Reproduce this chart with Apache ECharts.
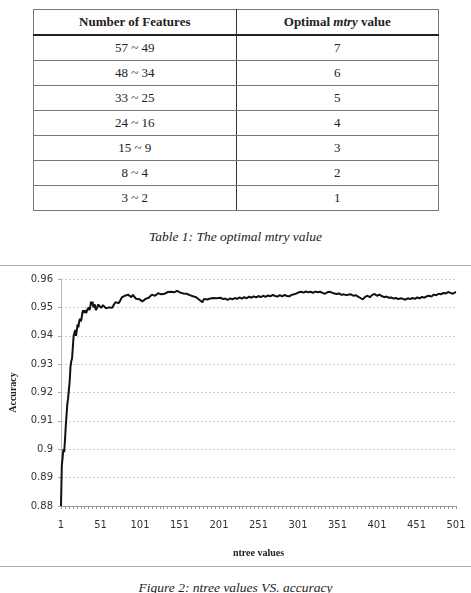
<!DOCTYPE html>
<html>
<head>
<meta charset="utf-8">
<script src="https://cdn.jsdelivr.net/npm/echarts@6/dist/echarts.min.js"></script>
<style>
  html, body { margin: 0; padding: 0; background: #fff; }
  body { width: 471px; height: 593px; position: relative; overflow: hidden; font-family: "Liberation Serif", serif; }
  #tbl { position: absolute; left: 33px; top: 9px; width: 406px; border-collapse: collapse; table-layout: fixed; font-size: 13px; color: #222; }
  #tbl td, #tbl th { height: 24px; padding: 0; text-align: center; border: 1px solid #777; }
  #tbl th { border-bottom: 2px solid #222; font-weight: bold; }
  #tbl td:first-child, #tbl th:first-child { border-right: 1px solid #333; }
  .cap { position: absolute; left: 0; width: 471px; text-align: center; font-style: italic; font-size: 13.5px; color: #222; }
  #frame { position: absolute; left: 0; top: 265px; width: 471px; height: 300px; border-top: 1px solid #aaa; border-bottom: 1px solid #aaa; }
  #chart { width: 471px; height: 300px; }
</style>
</head>
<body>
<table id="tbl"><thead></thead><tbody></tbody></table>
<div class="cap" style="top:229px">Table 1: The optimal mtry value</div>
<div id="frame"><div id="chart"></div></div>
<div class="cap" style="top:580px">Figure 2: ntree values VS. accuracy</div>
<script>
// table 1
const featureRanges = ['57 ~ 49', '48 ~ 34', '33 ~ 25', '24 ~ 16', '15 ~ 9', '8 ~ 4', '3 ~ 2']
const mtryValues = [7, 6, 5, 4, 3, 2, 1]

// figure 2
const ntree = [
  1, 2, 3, 4, 5, 6, 7, 8, 9, 10, 11, 12, 13, 14, 15, 16, 17, 18, 19, 20,
  21, 22, 23, 24, 25, 26, 27, 28, 29, 30, 31, 32, 33, 34, 35, 36, 37, 38, 39, 40,
  41, 42, 43, 44, 45, 46, 47, 48, 49, 50,
  52, 54, 56, 58, 60, 62, 64, 66, 68, 70, 72, 74, 76, 78, 80, 82, 84, 86, 88, 90,
  92, 94, 96, 98, 100, 102, 104, 106, 108, 110, 112, 114, 116, 118, 120, 122, 124, 126, 128, 130,
  132, 134, 136, 138, 140, 142, 144, 146, 148, 150, 152, 154, 156, 158, 160, 162, 164, 166, 168, 170,
  172, 174, 176, 178, 180, 182, 184, 186, 188, 190, 192, 194, 196, 198, 200,
  203, 206, 209, 212, 215, 218, 221, 224, 227, 230, 233, 236, 239, 242, 245, 248, 251, 254, 257, 260,
  263, 266, 269, 272, 275, 278, 281, 284, 287, 290, 293, 296, 299, 302, 305, 308, 311, 314, 317, 320,
  323, 326, 329, 332, 335, 338, 341, 344, 347, 350, 353, 356, 359, 362, 365, 368, 371, 374, 377, 380,
  383, 386, 389, 392, 395, 398, 401, 404, 407, 410, 413, 416, 419, 422, 425, 428, 431, 434, 437, 440,
  443, 446, 449, 452, 455, 458, 461, 464, 467, 470, 473, 476, 479, 482, 485, 488, 491, 494, 497, 500, 501
]
const accuracy = [
  0.880, 0.894, 0.897, 0.900, 0.899, 0.903, 0.908, 0.912, 0.916, 0.918, 0.921, 0.924, 0.929, 0.931, 0.932, 0.936, 0.940, 0.941, 0.942, 0.940,
  0.942, 0.944, 0.943, 0.945, 0.946, 0.945, 0.946, 0.948, 0.949, 0.948, 0.949, 0.949, 0.948, 0.949, 0.949, 0.950, 0.949, 0.950, 0.952, 0.951,
  0.952, 0.950, 0.950, 0.951, 0.949, 0.949, 0.950, 0.951, 0.951, 0.9505,
  0.9498, 0.9508, 0.9511, 0.9497, 0.9492, 0.9500, 0.9503, 0.9499, 0.9510, 0.9518, 0.9521, 0.9515, 0.9524, 0.9535, 0.9532, 0.9541, 0.9538, 0.9545, 0.9540, 0.9536,
  0.9544, 0.9548, 0.9530, 0.9525, 0.9529, 0.9523, 0.9521, 0.9527, 0.9530, 0.9525, 0.9534, 0.9541, 0.9545, 0.9538, 0.9541, 0.9547, 0.9550, 0.9543, 0.9546, 0.9540,
  0.9548, 0.9552, 0.9554, 0.9549, 0.9555, 0.9557, 0.9553, 0.9556, 0.9558, 0.9555, 0.9552, 0.9554, 0.9549, 0.9546, 0.9548, 0.9541, 0.9543, 0.9537, 0.9539, 0.9533,
  0.9536, 0.9530, 0.9527, 0.9531, 0.9518, 0.9530, 0.9532, 0.9528, 0.9534, 0.9531, 0.9527, 0.9533, 0.9529, 0.9532, 0.9527,
  0.9534, 0.9529, 0.9531, 0.9526, 0.9532, 0.9528, 0.9533, 0.9530, 0.9535, 0.9531, 0.9536, 0.9532, 0.9538, 0.9534, 0.9539, 0.9535, 0.9540, 0.9536, 0.9541, 0.9537,
  0.9542, 0.9539, 0.9544, 0.9540, 0.9538, 0.9543, 0.9539, 0.9544, 0.9540, 0.9539, 0.9544, 0.9546, 0.9549, 0.9553, 0.9555, 0.9552, 0.9556, 0.9553, 0.9555, 0.9551,
  0.9556, 0.9553, 0.9555, 0.9551, 0.9548, 0.9553, 0.9555, 0.9552, 0.9549, 0.9547, 0.9549, 0.9544, 0.9546, 0.9543, 0.9545, 0.9546, 0.9541, 0.9543, 0.9538, 0.9533,
  0.9528, 0.9537, 0.9541, 0.9536, 0.9544, 0.9547, 0.9541, 0.9545, 0.9540, 0.9536, 0.9538, 0.9534, 0.9535, 0.9531, 0.9533, 0.9529, 0.9532, 0.9530, 0.9527, 0.9532,
  0.9529, 0.9533, 0.9530, 0.9535, 0.9532, 0.9537, 0.9534, 0.9539, 0.9541, 0.9538, 0.9545, 0.9543, 0.9548, 0.9546, 0.9551, 0.9549, 0.9554, 0.9551, 0.9548, 0.9553, 0.9554
]
const yTicks = { min: 0.88, max: 0.96, step: 0.01 }
const xTicks = { min: 1, max: 501, step: 50 }

// build the table
const thead = document.querySelector('#tbl thead')
thead.innerHTML = '<tr><th>Number of Features</th><th>Optimal <i>mtry</i> value</th></tr>'
const tbody = document.querySelector('#tbl tbody')
featureRanges.forEach((r, i) => {
  const tr = document.createElement('tr')
  tr.innerHTML = '<td>' + r + '</td><td>' + mtryValues[i] + '</td>'
  tbody.appendChild(tr)
})

const chart = echarts.init(document.getElementById('chart'))
chart.setOption({
  animation: false,
  grid: { left: 58, right: 15, top: 13, bottom: 60 },
  xAxis: {
    type: 'value',
    min: xTicks.min,
    max: xTicks.max,
    interval: xTicks.step,
    name: 'ntree values',
    nameLocation: 'middle',
    nameGap: 42,
    nameTextStyle: { fontFamily: 'Liberation Serif', fontWeight: 'bold', fontSize: 10, color: '#222' },
    axisLine: { lineStyle: { color: '#999' } },
    axisTick: { length: 3, lineStyle: { color: '#999' } },
    minorTick: { show: true, splitNumber: 10, length: 3, lineStyle: { color: '#999' } },
    splitLine: { show: false },
    axisLabel: { margin: 14, color: '#333', fontFamily: 'DejaVu Sans', fontSize: 10 }
  },
  yAxis: {
    type: 'value',
    min: yTicks.min,
    max: yTicks.max,
    interval: yTicks.step,
    name: 'Accuracy',
    nameLocation: 'middle',
    nameGap: 43,
    nameTextStyle: { fontFamily: 'Liberation Serif', fontWeight: 'bold', fontSize: 10, color: '#222' },
    axisLine: { show: true, lineStyle: { color: '#bbb' } },
    axisTick: { show: true, length: 3, lineStyle: { color: '#aaa' } },
    splitLine: { lineStyle: { color: '#ccc', type: [2, 2] } },
    axisLabel: {
      margin: 8, color: '#333', fontFamily: 'DejaVu Sans', fontSize: 10,
      formatter: v => String(+v.toFixed(2))
    }
  },
  series: [{
    type: 'line',
    data: ntree.map((n, i) => [n, accuracy[i]]),
    showSymbol: false,
    lineStyle: { color: '#111', width: 2 }
  }]
})
</script>
</body>
</html>
